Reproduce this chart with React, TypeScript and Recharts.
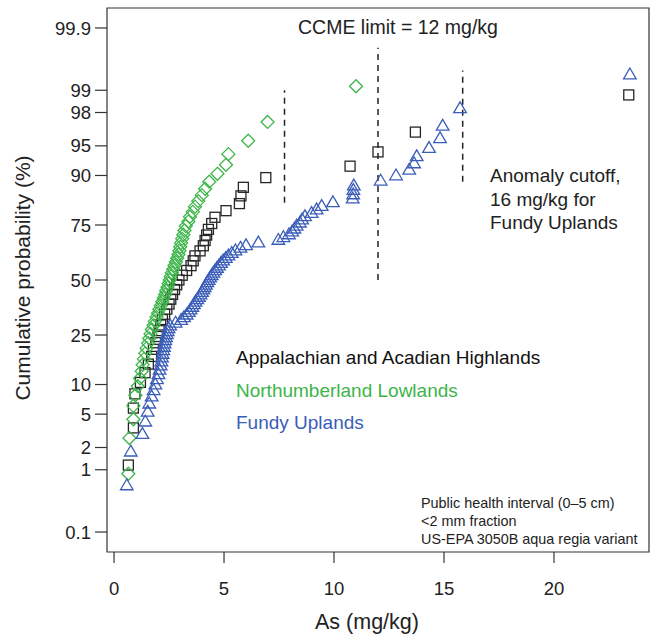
import { ScatterChart, Scatter, XAxis, YAxis, ReferenceArea, ReferenceLine } from "recharts";

const xTicks = [0, 5, 10, 15, 20];
const yTickLabels = ["0.1", "1", "2", "5", "10", "25", "50", "75", "90", "95", "98", "99", "99.9"];

// sorted As (mg/kg) per region
const appalachianAs = [
  0.65, 0.88, 0.88, 0.95, 1.2, 1.41, 1.56, 1.71, 1.79, 1.9, 2.0, 2.05, 2.12, 2.2, 2.3, 2.4, 2.5, 2.58,
  2.66, 2.75, 2.85, 2.95, 3.1, 3.3, 3.5, 3.6, 3.68, 3.91, 4.06, 4.14, 4.21, 4.29, 4.44, 4.59, 5.09,
  5.7, 5.77, 5.88, 6.9, 10.73, 12.0, 13.7, 23.4,
];
const northumberlandAs = [
  0.65, 0.7, 0.88, 0.88, 0.97, 1.08, 1.18, 1.26, 1.3, 1.36, 1.42, 1.48, 1.55, 1.6, 1.66, 1.72, 1.8,
  1.86, 1.93, 2.0, 2.06, 2.13, 2.19, 2.26, 2.32, 2.37, 2.43, 2.48, 2.53, 2.58, 2.63, 2.69, 2.75, 2.81,
  2.87, 2.93, 2.97, 3.01, 3.05, 3.1, 3.15, 3.2, 3.26, 3.38, 3.45, 3.58, 3.68, 3.83, 3.99, 4.14, 4.33,
  4.7, 5.09, 5.2, 6.1, 6.98, 11.0,
];
const fundyAs = [
  0.58, 0.76, 1.29, 1.42, 1.53, 1.6, 1.71, 1.8, 1.88, 1.95, 2.02, 2.07, 2.12, 2.15, 2.18, 2.21, 2.24,
  2.27, 2.3, 2.33, 2.36, 2.4, 2.44, 2.48, 2.55, 2.8, 3.05, 3.18, 3.3, 3.4, 3.48, 3.56, 3.63, 3.7,
  3.78, 3.86, 3.93, 4.0, 4.06, 4.12, 4.18, 4.24, 4.3, 4.37, 4.44, 4.52, 4.6, 4.68, 4.77, 4.86,
  4.96, 5.08, 5.2, 5.35, 5.52, 5.75, 6.0, 6.56, 7.47, 7.7, 7.95, 8.1, 8.2, 8.3, 8.45, 8.55, 8.68, 8.98,
  9.21, 9.44, 9.95, 10.85, 10.87, 10.88, 10.9, 12.12, 12.82, 13.42, 13.64, 13.76, 14.32, 14.82,
  14.94, 15.73, 23.45,
];

// dashed lines: As, lower %, upper %
const cutoffX = [7.75, 12, 15.85];
const cutoffLow = [82.8, 50, 88.6];
const cutoffHigh = [99.0, 99.78, 99.49];

const BLACK = "#262626";
const GREEN = "#3db54a";
const BLUE = "#3a5db8";
const FONT = "'Liberation Sans', Arial, Helvetica, sans-serif";

// inverse normal cdf (Acklam) for the probability axis
function probit(p: number) {
  const a = [-39.69683028665376, 220.9460984245205, -275.9285104469687, 138.357751867269, -30.66479806614716, 2.506628277459239];
  const b = [-54.47609879822406, 161.5858368580409, -155.6989798598866, 66.80131188771972, -13.28068155288572];
  const c = [-0.007784894002430293, -0.3223964580411365, -2.400758277161838, -2.549732539343734, 4.374664141464968, 2.938163982698783];
  const d = [0.007784695709041462, 0.3224671290700398, 2.445134137142996, 3.754408661907416];
  const pl = 0.02425;
  if (p < pl) {
    const q = Math.sqrt(-2 * Math.log(p));
    return (((((c[0] * q + c[1]) * q + c[2]) * q + c[3]) * q + c[4]) * q + c[5]) / ((((d[0] * q + d[1]) * q + d[2]) * q + d[3]) * q + 1);
  }
  if (p > 1 - pl) {
    const q = Math.sqrt(-2 * Math.log(1 - p));
    return -(((((c[0] * q + c[1]) * q + c[2]) * q + c[3]) * q + c[4]) * q + c[5]) / ((((d[0] * q + d[1]) * q + d[2]) * q + d[3]) * q + 1);
  }
  const q = p - 0.5;
  const r = q * q;
  return ((((((a[0] * r + a[1]) * r + a[2]) * r + a[3]) * r + a[4]) * r + a[5]) * q) / (((((b[0] * r + b[1]) * r + b[2]) * r + b[3]) * r + b[4]) * r + 1);
}

// plotting position (i - 0.5) / n of the sorted sample
const toPoints = (vals: number[]) => vals.map((v, i) => ({ x: v, y: probit((i + 0.5) / vals.length) }));

const yTicks = yTickLabels.map((l) => probit(parseFloat(l) / 100));
const fmtY = (v: number) => {
  let best = 0;
  yTicks.forEach((t, i) => {
    if (Math.abs(t - v) < Math.abs(yTicks[best] - v)) best = i;
  });
  return yTickLabels[best];
};

const Y_MIN = -3.335;
const Y_MAX = 3.335;
const X_MIN = -0.32;
const X_MAX = 24.32;

const Square = (props: any) => {
  const { cx, cy } = props;
  return <rect x={cx - 5} y={cy - 5} width={10} height={10} fill="none" stroke={BLACK} strokeWidth={1.3} />;
};
const Diamond = (props: any) => {
  const { cx, cy } = props;
  const r = 6.5;
  return <polygon points={`${cx},${cy - r} ${cx + r},${cy} ${cx},${cy + r} ${cx - r},${cy}`} fill="none" stroke={GREEN} strokeWidth={1.3} />;
};
const Triangle = (props: any) => {
  const { cx, cy } = props;
  return <polygon points={`${cx},${cy - 6.5} ${cx + 6.3},${cy + 4.3} ${cx - 6.3},${cy + 4.3}`} fill="none" stroke={BLUE} strokeWidth={1.3} />;
};

export default function App() {
  return (
    <div style={{ position: "absolute", left: 0, top: 0, width: 656, height: 639, background: "#fff", fontFamily: FONT }}>
      <ScatterChart width={656} height={639} margin={{ top: 8, right: 7, bottom: 0, left: 0 }}>
        <XAxis
          type="number"
          dataKey="x"
          domain={[X_MIN, X_MAX]}
          ticks={xTicks}
          interval={0}
          allowDataOverflow
          height={87}
          tickSize={11}
          tickMargin={19}
          axisLine={false}
          tickLine={{ stroke: "#333", strokeWidth: 1.2 }}
          tick={{ fontSize: 18.5, fill: "#222", fontFamily: FONT }}
        />
        <YAxis
          type="number"
          dataKey="y"
          domain={[Y_MIN, Y_MAX]}
          ticks={yTicks}
          interval={0}
          allowDataOverflow
          width={107}
          tickSize={12}
          tickMargin={4}
          axisLine={false}
          tickLine={{ stroke: "#333", strokeWidth: 1.2 }}
          tickFormatter={fmtY}
          tick={{ fontSize: 18.5, fill: "#222", fontFamily: FONT }}
        />
        <ReferenceArea x1={X_MIN} x2={X_MAX} y1={Y_MIN} y2={Y_MAX} fill="none" stroke="#333" strokeWidth={1.2} ifOverflow="visible" />
        {cutoffX.map((x, i) => (
          <ReferenceLine
            key={i}
            segment={[
              { x, y: probit(cutoffLow[i] / 100) },
              { x, y: probit(cutoffHigh[i] / 100) },
            ]}
            stroke="#222"
            strokeWidth={1.5}
            strokeDasharray="6 5"
            ifOverflow="visible"
          />
        ))}
        <Scatter data={toPoints(appalachianAs)} shape={Square} isAnimationActive={false} />
        <Scatter data={toPoints(northumberlandAs)} shape={Diamond} isAnimationActive={false} />
        <Scatter data={toPoints(fundyAs)} shape={Triangle} isAnimationActive={false} />
      </ScatterChart>
      <svg width={656} height={639} style={{ position: "absolute", left: 0, top: 0, pointerEvents: "none" }} fontFamily={FONT}>
        <text x={22} y={278} transform="rotate(-90 22 278)" textAnchor="middle" dominantBaseline="central" fontSize={21} fill="#222">
          Cumulative probability (%)
        </text>
        <text x={367} y={629} textAnchor="middle" fontSize={21.5} fill="#222">As (mg/kg)</text>
        <text x={298} y={34} fontSize={19.5} fill="#222">CCME limit = 12 mg/kg</text>
        <text x={490} y={181.5} fontSize={19} fill="#222">Anomaly cutoff,</text>
        <text x={490} y={205.5} fontSize={19} fill="#222">16 mg/kg for</text>
        <text x={490} y={229} fontSize={19} fill="#222">Fundy Uplands</text>
        <text x={236} y={364} fontSize={19} fill="#111">Appalachian and Acadian Highlands</text>
        <text x={236} y={397} fontSize={19} fill={GREEN}>Northumberland Lowlands</text>
        <text x={236} y={429} fontSize={19} fill={BLUE}>Fundy Uplands</text>
        <text x={421} y={508} fontSize={14.4} fill="#222">Public health interval (0–5 cm)</text>
        <text x={421} y={526} fontSize={14.4} fill="#222">&lt;2 mm fraction</text>
        <text x={421} y={544} fontSize={14.4} fill="#222">US-EPA 3050B aqua regia variant</text>
      </svg>
    </div>
  );
}
